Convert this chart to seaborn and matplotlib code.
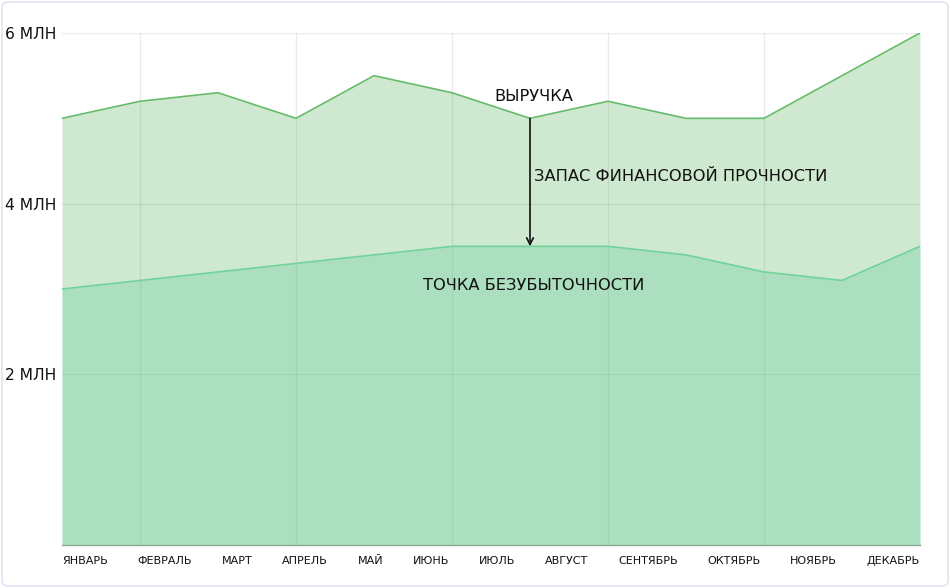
import matplotlib
matplotlib.use("Agg")
import matplotlib.pyplot as plt
import seaborn as sns
import pandas as pd
from matplotlib.patches import FancyBboxPatch

months = ["ЯНВАРЬ", "ФЕВРАЛЬ", "МАРТ", "АПРЕЛЬ", "МАЙ", "ИЮНЬ",
          "ИЮЛЬ", "АВГУСТ", "СЕНТЯБРЬ", "ОКТЯБРЬ", "НОЯБРЬ", "ДЕКАБРЬ"]
revenue = [5.0, 5.2, 5.3, 5.0, 5.5, 5.3, 5.0, 5.2, 5.0, 5.0, 5.5, 6.0]
breakeven = [3.0, 3.1, 3.2, 3.3, 3.4, 3.5, 3.5, 3.5, 3.4, 3.2, 3.1, 3.5]
y_ticks = [2, 4, 6]
y_labels = ["2 МЛН", "4 МЛН", "6 МЛН"]

label_revenue = "ВЫРУЧКА"
label_margin = "ЗАПАС ФИНАНСОВОЙ ПРОЧНОСТИ"
label_be = "ТОЧКА БЕЗУБЫТОЧНОСТИ"

df = pd.DataFrame({"idx": range(len(months)), "month": months,
                   "revenue": revenue, "breakeven": breakeven})

sns.set_theme(style="white")
plt.rcParams["font.family"] = ["DejaVu Sans"]

W, H = 950, 588
fig = plt.figure(figsize=(W / 100, H / 100), dpi=100)
fig.patch.set_facecolor("white")

card = FancyBboxPatch((2 / W, 2 / H), 946 / W, 584 / H,
                      boxstyle="round,pad=0,rounding_size=0.008",
                      transform=fig.transFigure, facecolor="white",
                      edgecolor="#e2e2f2", linewidth=1.2, zorder=-10)
fig.patches.append(card)

left, right, top, bottom = 62, 920, 33, 545
ax = fig.add_axes([left / W, 1 - bottom / H, (right - left) / W, (bottom - top) / H])
ax.set_facecolor("none")

rev_line = "#66bb6a"
be_line = "#6fd39b"
ax.fill_between(df["idx"], 0, df["revenue"], color="#4caf50", alpha=0.27,
                linewidth=0, zorder=2)
sns.lineplot(data=df, x="idx", y="revenue", ax=ax, color=rev_line, lw=1.2, zorder=3)
ax.fill_between(df["idx"], 0, df["breakeven"], color="#5ec89e", alpha=0.30,
                linewidth=0, zorder=2)
sns.lineplot(data=df, x="idx", y="breakeven", ax=ax, color=be_line, lw=1.2, zorder=3)

ax.set_xlim(0, len(months) - 1)
ax.set_ylim(0, 6)
ax.set_xlabel("")
ax.set_ylabel("")

# grid
ax.set_yticks(y_ticks)
ax.set_yticklabels(y_labels)
ax.set_xticks(list(range(1, len(months) - 1, 2)), minor=True)
ax.grid(False)
ax.grid(axis="y", which="major", color="#000000", alpha=0.08, lw=1, zorder=1)
ax.grid(axis="x", which="minor", color="#000000", alpha=0.08, lw=1, zorder=1)
ax.tick_params(axis="x", which="minor", length=0)

for s in ["top", "right", "left"]:
    ax.spines[s].set_visible(False)
ax.spines["bottom"].set_color("#8aa894")
ax.spines["bottom"].set_linewidth(1.0)
ax.spines["bottom"].set_zorder(4)

# y tick labels left-aligned at the left edge of the card
ax.tick_params(axis="y", length=0, pad=(left - 5) * 0.72, labelsize=11.2, labelcolor="#111111")
for t in ax.get_yticklabels():
    t.set_ha("left")

# x labels: flow layout with equal gaps across the axis width
fig.canvas.draw()
renderer = fig.canvas.get_renderer()
xfs = 8
widths = []
for m in months:
    t = fig.text(0, 0, m, fontsize=xfs)
    widths.append(t.get_window_extent(renderer).width)
    t.remove()
axw = right - left
gap = (axw - sum(widths)) / (len(months) - 1)
centers = []
cur = 0.0
for w in widths:
    centers.append(cur + w / 2)
    cur += w + gap
xpos = [c / axw * (len(months) - 1) for c in centers]
ax.set_xticks(xpos)
ax.set_xticklabels(months)
ax.tick_params(axis="x", which="major", length=0, pad=8, labelsize=xfs, labelcolor="#111111")

# annotations
afs = 11.7
j = 6
ax.annotate(label_revenue, (j, revenue[j]), xytext=(3, 16), textcoords="offset points",
            ha="center", va="center", fontsize=afs, color="#111111", zorder=6)
ax.annotate("", xy=(j, breakeven[j]), xytext=(j, revenue[j]),
            arrowprops=dict(arrowstyle="->", color="#111111", lw=1.2,
                            shrinkA=0, shrinkB=0, mutation_scale=12), zorder=6)
ax.annotate(label_margin, (j, (revenue[j] + breakeven[j]) / 2), xytext=(3, 4),
            textcoords="offset points", ha="left", va="center", fontsize=afs,
            color="#111111", zorder=6)
ax.annotate(label_be, (j, breakeven[j]), xytext=(3, -28), textcoords="offset points",
            ha="center", va="center", fontsize=afs, color="#111111", zorder=6)

fig.savefig("out.png", dpi=100, facecolor="white")
